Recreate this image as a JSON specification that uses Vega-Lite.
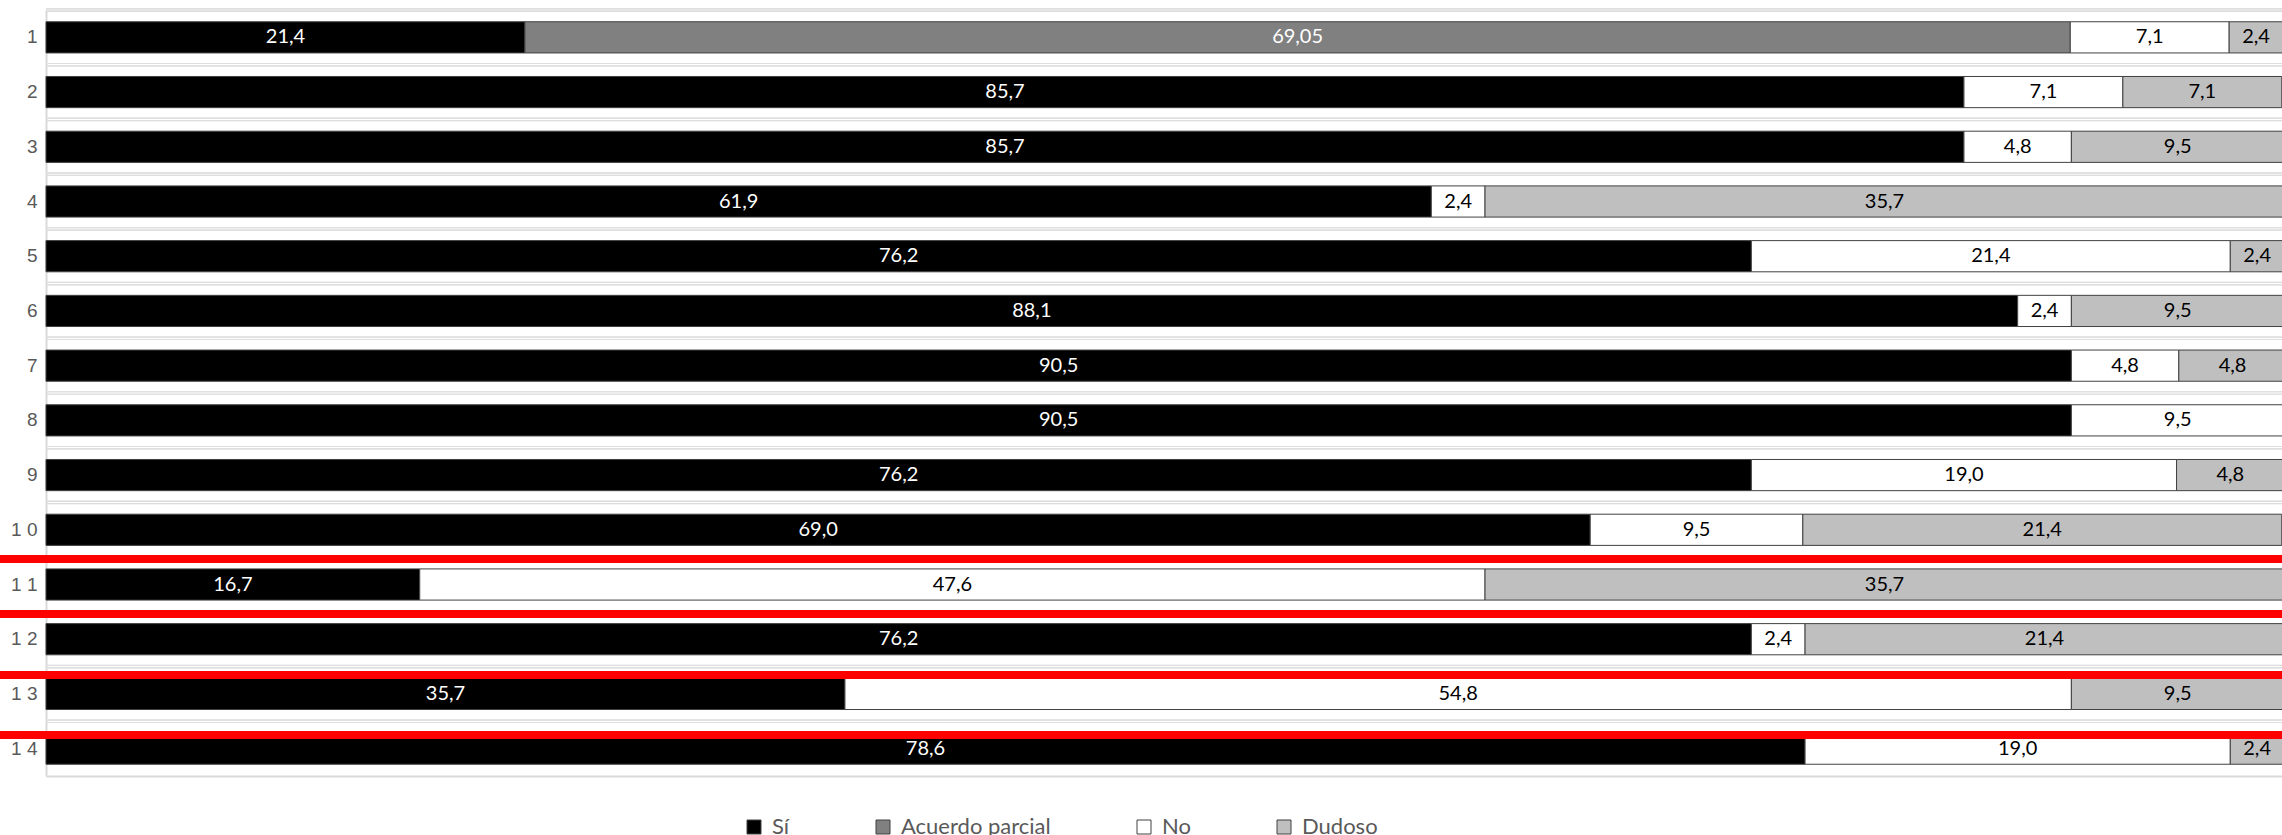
{
  "$schema": "https://vega.github.io/schema/vega-lite/v6.json",
  "width": 2238,
  "height": 766,
  "autosize": {"type": "none"},
  "padding": {"left": 46, "top": 10, "right": 0, "bottom": 59},
  "config": {
    "view": {"stroke": null},
    "locale": {"number": {"decimal": ",", "thousands": ".", "grouping": [3], "currency": ["", " €"]}}
  },
  "data": {
    "values": [
      {"fila": 1, "categoria": "Sí", "valor": 21.4},
      {"fila": 1, "categoria": "Acuerdo parcial", "valor": 69.05},
      {"fila": 1, "categoria": "No", "valor": 7.1},
      {"fila": 1, "categoria": "Dudoso", "valor": 2.4},
      {"fila": 2, "categoria": "Sí", "valor": 85.7},
      {"fila": 2, "categoria": "No", "valor": 7.1},
      {"fila": 2, "categoria": "Dudoso", "valor": 7.1},
      {"fila": 3, "categoria": "Sí", "valor": 85.7},
      {"fila": 3, "categoria": "No", "valor": 4.8},
      {"fila": 3, "categoria": "Dudoso", "valor": 9.5},
      {"fila": 4, "categoria": "Sí", "valor": 61.9},
      {"fila": 4, "categoria": "No", "valor": 2.4},
      {"fila": 4, "categoria": "Dudoso", "valor": 35.7},
      {"fila": 5, "categoria": "Sí", "valor": 76.2},
      {"fila": 5, "categoria": "No", "valor": 21.4},
      {"fila": 5, "categoria": "Dudoso", "valor": 2.4},
      {"fila": 6, "categoria": "Sí", "valor": 88.1},
      {"fila": 6, "categoria": "No", "valor": 2.4},
      {"fila": 6, "categoria": "Dudoso", "valor": 9.5},
      {"fila": 7, "categoria": "Sí", "valor": 90.5},
      {"fila": 7, "categoria": "No", "valor": 4.8},
      {"fila": 7, "categoria": "Dudoso", "valor": 4.8},
      {"fila": 8, "categoria": "Sí", "valor": 90.5},
      {"fila": 8, "categoria": "No", "valor": 9.5},
      {"fila": 9, "categoria": "Sí", "valor": 76.2},
      {"fila": 9, "categoria": "No", "valor": 19.0},
      {"fila": 9, "categoria": "Dudoso", "valor": 4.8},
      {"fila": 10, "categoria": "Sí", "valor": 69.0},
      {"fila": 10, "categoria": "No", "valor": 9.5},
      {"fila": 10, "categoria": "Dudoso", "valor": 21.4},
      {"fila": 11, "categoria": "Sí", "valor": 16.7},
      {"fila": 11, "categoria": "No", "valor": 47.6},
      {"fila": 11, "categoria": "Dudoso", "valor": 35.7},
      {"fila": 12, "categoria": "Sí", "valor": 76.2},
      {"fila": 12, "categoria": "No", "valor": 2.4},
      {"fila": 12, "categoria": "Dudoso", "valor": 21.4},
      {"fila": 13, "categoria": "Sí", "valor": 35.7},
      {"fila": 13, "categoria": "No", "valor": 54.8},
      {"fila": 13, "categoria": "Dudoso", "valor": 9.5},
      {"fila": 14, "categoria": "Sí", "valor": 78.6},
      {"fila": 14, "categoria": "No", "valor": 19.0},
      {"fila": 14, "categoria": "Dudoso", "valor": 2.4}
    ]
  },
  "transform": [
    {"stack": "valor", "groupby": ["fila"], "as": ["x0", "x1"]}
  ],
  "layer": [
    {
      "mark": {"type": "rule", "color": "#dedede", "strokeWidth": 1, "yOffset": -1.2},
      "encoding": {
        "y": {"field": "fila", "type": "ordinal", "bandPosition": -0.377},
        "x": {"datum": 0, "type": "quantitative"},
        "x2": {"datum": 102}
      }
    },
    {
      "mark": {"type": "rule", "color": "#dedede", "strokeWidth": 1, "yOffset": 1.2},
      "encoding": {
        "y": {"field": "fila", "type": "ordinal", "bandPosition": -0.377},
        "x": {"datum": 0, "type": "quantitative"},
        "x2": {"datum": 102}
      }
    },
    {
      "mark": {"type": "bar", "stroke": "#404040", "strokeWidth": 1},
      "encoding": {
        "y": {
          "field": "fila",
          "type": "ordinal",
          "scale": {"paddingInner": 0.43, "paddingOuter": 0.215},
          "axis": {
            "title": null,
            "ticks": false,
            "grid": false,
            "domainColor": "#d9d9d9",
            "domainWidth": 2,
            "labelFont": "Liberation Sans",
            "labelFontSize": 19,
            "labelColor": "#595959",
            "labelPadding": 9,
            "labelExpr": "length(datum.label) > 1 ? join(split(datum.label, ''), ' ') : datum.label"
          }
        },
        "x": {
          "field": "x0",
          "type": "quantitative",
          "scale": {"domain": [0, 100]},
          "axis": {
            "title": null,
            "labels": false,
            "ticks": false,
            "grid": false,
            "domainColor": "#d9d9d9",
            "domainWidth": 2
          }
        },
        "x2": {"field": "x1"},
        "color": {
          "field": "categoria",
          "type": "nominal",
          "scale": {
            "domain": ["Sí", "Acuerdo parcial", "No", "Dudoso"],
            "range": ["#000000", "#808080", "#ffffff", "#bfbfbf"]
          },
          "legend": {
            "orient": "none",
            "legendX": 697,
            "legendY": 806,
            "direction": "horizontal",
            "title": null,
            "padding": 0,
            "symbolType": "square",
            "symbolSize": 196,
            "symbolStrokeColor": "#404040",
            "symbolStrokeWidth": 1,
            "symbolOpacity": 1,
            "labelFont": "Lato",
            "labelFontSize": 22,
            "labelColor": "#595959",
            "labelOffset": 7,
            "columnPadding": 82
          }
        }
      }
    },
    {
      "transform": [{"calculate": "(datum.x0 + datum.x1) / 2", "as": "medio"}],
      "mark": {
        "type": "text",
        "font": "Lato",
        "fontSize": 20,
        "align": "center",
        "baseline": "middle",
        "text": {"expr": "replace(format(datum.valor, datum.categoria === 'Acuerdo parcial' ? '.2f' : '.1f'), '.', ',')"}
      },
      "encoding": {
        "y": {"field": "fila", "type": "ordinal"},
        "x": {"field": "medio", "type": "quantitative"},
        "color": {
          "condition": {"test": "datum.categoria === 'Sí' || datum.categoria === 'Acuerdo parcial'", "value": "#ffffff"},
          "value": "#000000"
        }
      }
    },
    {
      "mark": {"type": "rule", "color": "#ff0000", "strokeWidth": 8, "yOffset": -25.5},
      "encoding": {
        "y": {"datum": 11, "type": "ordinal"},
        "x": {"datum": -2.1, "type": "quantitative"},
        "x2": {"datum": 102}
      }
    },
    {
      "mark": {"type": "rule", "color": "#ff0000", "strokeWidth": 8, "yOffset": -25.2},
      "encoding": {
        "y": {"datum": 12, "type": "ordinal"},
        "x": {"datum": -2.1, "type": "quantitative"},
        "x2": {"datum": 102}
      }
    },
    {
      "mark": {"type": "rule", "color": "#ff0000", "strokeWidth": 8, "yOffset": -18.9},
      "encoding": {
        "y": {"datum": 13, "type": "ordinal"},
        "x": {"datum": -2.1, "type": "quantitative"},
        "x2": {"datum": 102}
      }
    },
    {
      "mark": {"type": "rule", "color": "#ff0000", "strokeWidth": 8, "yOffset": -13.6},
      "encoding": {
        "y": {"datum": 14, "type": "ordinal"},
        "x": {"datum": -2.1, "type": "quantitative"},
        "x2": {"datum": 102}
      }
    }
  ]
}
